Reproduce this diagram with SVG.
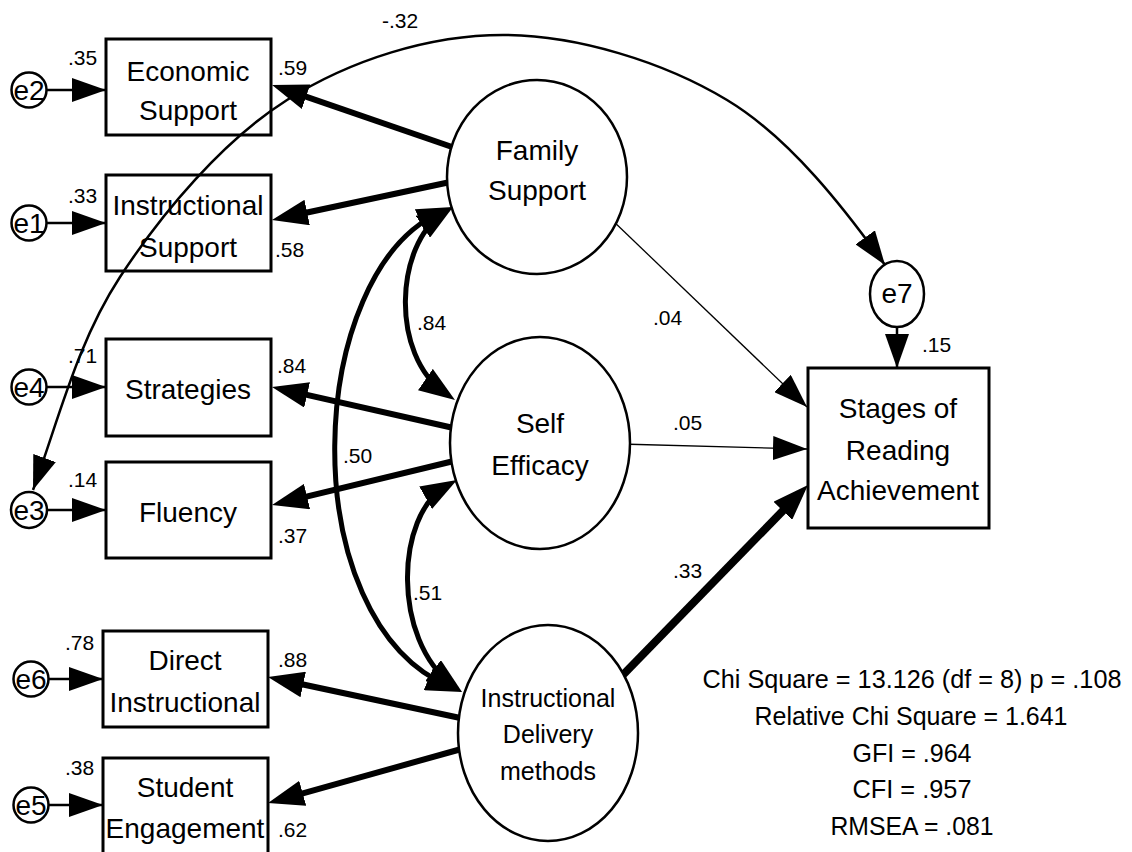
<svg xmlns="http://www.w3.org/2000/svg" width="1132" height="852" viewBox="0 0 1132 852">
<style>
text{font-family:"Liberation Sans",Arial,sans-serif;fill:#000}
.lbl{font-size:28px;text-anchor:middle}
.idm{font-size:25px;text-anchor:middle}
.ev{font-size:28px;text-anchor:middle}
.num{font-size:21px}
.fit{font-size:26px;text-anchor:middle}
.box{fill:#fff;stroke:#000;stroke-width:3}
.lat{fill:#fff;stroke:#000;stroke-width:2.5}
.err{fill:#fff;stroke:#000;stroke-width:2.5}
.thin{fill:none;stroke:#000;stroke-width:2.5}
.hair{fill:none;stroke:#000;stroke-width:1.3}
.load{fill:none;stroke:#000;stroke-width:6}
.cov{fill:none;stroke:#000;stroke-width:5}
.big{fill:none;stroke:#000;stroke-width:8}
</style>
<defs>
<marker id="ah" viewBox="0 0 34 24" refX="34" refY="12" markerWidth="34" markerHeight="24" markerUnits="userSpaceOnUse" orient="auto-start-reverse"><path d="M0,0 L34,12 L0,24 z" fill="#000"/></marker>
<marker id="ahk" viewBox="0 0 36 26" refX="24" refY="13" markerWidth="36" markerHeight="26" markerUnits="userSpaceOnUse" orient="auto-start-reverse"><path d="M0,0 L36,13 L0,26 z" fill="#000"/></marker>
</defs>

<g id="boxes">
<g id="economic-support"><rect class="box" x="106" y="39" width="165" height="96"/><text class="lbl" x="188" y="81">Economic</text><text class="lbl" x="188" y="120">Support</text></g>
<g id="instructional-support"><rect class="box" x="106" y="175" width="165" height="96"/><text class="lbl" x="188" y="215">Instructional</text><text class="lbl" x="188" y="257">Support</text></g>
<g id="strategies"><rect class="box" x="106" y="339" width="165" height="97"/><text class="lbl" x="188" y="399">Strategies</text></g>
<g id="fluency"><rect class="box" x="106" y="462" width="165" height="96"/><text class="lbl" x="188" y="522">Fluency</text></g>
<g id="direct-instructional"><rect class="box" x="103" y="631" width="165" height="96"/><text class="lbl" x="185" y="670">Direct</text><text class="lbl" x="185" y="712">Instructional</text></g>
<g id="student-engagement"><rect class="box" x="103" y="758" width="165" height="96"/><text class="lbl" x="185" y="797">Student</text><text class="lbl" x="185" y="838">Engagement</text></g>
<g id="stages"><rect class="box" x="808" y="368" width="181" height="160"/><text class="lbl" x="898" y="418">Stages of</text><text class="lbl" x="898" y="460">Reading</text><text class="lbl" x="898" y="500">Achievement</text></g>
</g>

<g id="connectors">
<path class="thin" d="M47 90 H106" marker-end="url(#ah)"/>
<path class="thin" d="M47 223 H106" marker-end="url(#ah)"/>
<path class="thin" d="M47 387 H106" marker-end="url(#ah)"/>
<path class="thin" d="M47 510 H106" marker-end="url(#ah)"/>
<path class="thin" d="M49 679 H103" marker-end="url(#ah)"/>
<path class="thin" d="M49 805 H103" marker-end="url(#ah)"/>

<path class="load" d="M455 148 L283.4 88.9" marker-end="url(#ahk)"/>
<path class="load" d="M455 181 L283.7 217.5" marker-end="url(#ahk)"/>
<path class="load" d="M458 429 L283.7 389.6" marker-end="url(#ahk)"/>
<path class="load" d="M458 460 L283.7 502.2" marker-end="url(#ahk)"/>
<path class="load" d="M465 719 L279.7 679.5" marker-end="url(#ahk)"/>
<path class="load" d="M465 748 L279.6 799.8" marker-end="url(#ahk)"/>

<path class="hair" d="M610 218 L807 407" marker-end="url(#ah)"/>
<path class="hair" d="M620 444 L807 449" marker-end="url(#ah)"/>
<path class="big" d="M618 680 L799.6 493.6" marker-end="url(#ahk)"/>
<path class="thin" d="M897 327 L897 368" marker-end="url(#ah)"/>

<path class="cov" d="M443 213.6 C395 245 390 355 445.1 393.2" marker-start="url(#ahk)" marker-end="url(#ahk)"/>
<path class="cov" d="M446.5 485.9 C395 515 392 640 452.4 684.8" marker-start="url(#ahk)" marker-end="url(#ahk)"/>
<path class="cov" d="M442 211.7 C305 270 290 620 450.9 687.4" marker-start="url(#ahk)" marker-end="url(#ahk)"/>

<path class="thin" d="M33 490 C59.7 416.3 77.7 341.7 120 277 C162.3 212.3 223.2 140.3 287 100 C350.8 59.7 429.7 35 503 35 C576.3 35 663.3 61.7 727 100 C790.7 138.3 846.3 211 885 265" marker-start="url(#ah)" marker-end="url(#ah)"/>
</g>

<g id="latents">
<g id="family-support"><ellipse class="lat" cx="537" cy="177" rx="90" ry="97"/><text class="lbl" x="537" y="160">Family</text><text class="lbl" x="537" y="200">Support</text></g>
<g id="self-efficacy"><ellipse class="lat" cx="540" cy="443" rx="90" ry="106"/><text class="lbl" x="540" y="433">Self</text><text class="lbl" x="540" y="475">Efficacy</text></g>
<g id="instructional-delivery"><ellipse class="lat" cx="548" cy="733" rx="90" ry="108"/><text class="idm" x="548" y="707">Instructional</text><text class="idm" x="548" y="743">Delivery</text><text class="idm" x="548" y="780">methods</text></g>
</g>

<g id="errors">
<g id="e2"><circle class="err" cx="29" cy="90" r="17.5"/><text class="ev" x="29" y="100">e2</text></g>
<g id="e1"><circle class="err" cx="29" cy="223" r="17.5"/><text class="ev" x="29" y="233">e1</text></g>
<g id="e4"><circle class="err" cx="29" cy="387" r="17.5"/><text class="ev" x="29" y="397">e4</text></g>
<g id="e3"><circle class="err" cx="29" cy="510" r="18"/><text class="ev" x="29" y="520">e3</text></g>
<g id="e6"><circle class="err" cx="31" cy="679" r="17.5"/><text class="ev" x="31" y="689">e6</text></g>
<g id="e5"><circle class="err" cx="31" cy="805" r="17.5"/><text class="ev" x="31" y="815">e5</text></g>
<g id="e7"><ellipse class="err" cx="897" cy="294" rx="27" ry="33"/><text class="ev" x="897" y="303">e7</text></g>
</g>

<g id="estimates">
<text class="num" x="68" y="65">.35</text>
<text class="num" x="278" y="75">.59</text>
<text class="num" x="68" y="203">.33</text>
<text class="num" x="275" y="257">.58</text>
<text class="num" x="382" y="28">-.32</text>
<text class="num" x="68" y="363">.71</text>
<text class="num" x="277" y="373">.84</text>
<text class="num" x="417" y="330">.84</text>
<text class="num" x="343" y="463">.50</text>
<text class="num" x="68" y="487">.14</text>
<text class="num" x="278" y="543">.37</text>
<text class="num" x="413" y="600">.51</text>
<text class="num" x="65" y="650">.78</text>
<text class="num" x="278" y="667">.88</text>
<text class="num" x="65" y="775">.38</text>
<text class="num" x="278" y="837">.62</text>
<text class="num" x="653" y="325">.04</text>
<text class="num" x="673" y="430">.05</text>
<text class="num" x="922" y="352">.15</text>
<text class="num" x="673" y="578">.33</text>
</g>

<g id="fit">
<text class="fit" x="912" y="688" textLength="419" lengthAdjust="spacingAndGlyphs">Chi Square = 13.126 (df = 8) p = .108</text>
<text class="fit" x="911" y="725" textLength="313" lengthAdjust="spacingAndGlyphs">Relative Chi Square = 1.641</text>
<text class="fit" x="912" y="762" textLength="119" lengthAdjust="spacingAndGlyphs">GFI = .964</text>
<text class="fit" x="912" y="798" textLength="119" lengthAdjust="spacingAndGlyphs">CFI = .957</text>
<text class="fit" x="912" y="835" textLength="163" lengthAdjust="spacingAndGlyphs">RMSEA = .081</text>
</g>
</svg>
